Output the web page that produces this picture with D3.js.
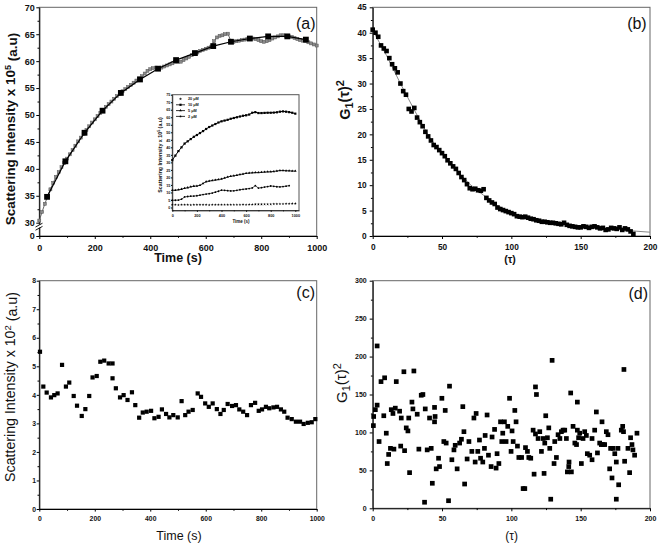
<!DOCTYPE html>
<html><head><meta charset="utf-8">
<script src="https://cdn.jsdelivr.net/npm/d3@7"></script>
<style>
body{margin:0;background:#fff}
svg{display:block}
</style></head><body>
<script>
// ---------------- DATA ----------------
// Panel (a): dense grey series
const aGreyT = [0,10,20,30,40,50,60,70,80,90,100,110,120,130,140,150,160,170,180,190,200,210,220,230,240,250,260,270,280,290,300,310,320,330,340,350,360,370,380,390,400,410,420,430,440,450,460,470,480,490,500,510,520,530,540,550,560,570,580,590,600,610,620,630,640,650,660,670,680,690,700,710,720,730,740,750,760,770,780,790,800,810,820,830,840,850,860,870,880,890,900,910,920,930,940,950,960,970,980,990,1000];
const aGreyV = [30.4,32.0,33.5,34.9,36.2,37.4,38.5,39.4,40.3,41.1,41.9,42.7,43.5,44.3,45.1,45.8,46.5,47.2,47.9,48.6,49.2,49.8,50.4,50.9,51.5,52.0,52.5,53.0,53.5,53.9,54.4,54.8,55.2,55.6,56.0,56.4,56.8,57.2,57.7,58.2,58.5,58.7,58.8,58.7,58.8,59.0,59.2,59.4,59.6,59.8,59.8,59.9,60.2,60.5,60.8,61.1,61.3,61.6,61.9,62.1,62.3,62.5,62.7,63.7,64.4,64.7,64.8,65.0,65.1,63.8,63.6,63.7,63.8,63.9,64.0,64.1,64.2,64.2,64.1,63.9,63.7,63.6,63.7,63.9,64.2,64.4,64.6,64.8,64.8,64.7,64.6,64.5,64.3,64.1,63.9,63.8,63.7,63.5,63.3,63.1,62.9];
// Panel (a): black series (large squares)
const aBlkT = [28,94,163,228,294,363,428,493,561,627,691,759,825,894,961];
const aBlkV = [34.8,41.4,46.7,50.8,54.1,56.6,58.6,60.2,61.5,62.8,63.6,64.2,64.6,64.6,64.0];
const aYTicks = [0,30,35,40,45,50,55,60,65,70];
const aXTicks = [0,200,400,600,800,1000];

// Inset of (a)
const inLegend = ["20 \u03bcM","10 \u03bcM","5 \u03bcM","2 \u03bcM"];
const inT = [0,25,50,75,100,125,150,175,200,225,250,275,300,325,350,375,400,425,450,475,500,525,550,575,600,625,650,675,700,725,750,775,800,825,850,875,900,925,950,975,1000];
const in20 = [1.8,1.8,1.7,1.8,1.8,1.8,1.7,1.8,1.8,1.8,1.8,1.8,1.7,1.8,1.8,1.8,1.8,1.9,1.8,1.8,1.9,1.9,1.9,2.0,1.9,2.0,2.0,2.1,2.1,2.1,2.2,2.2,2.2,2.3,2.3,2.4,2.4,2.5,2.5,2.6,2.6];
const in10 = [31.5,34.5,37.5,40,42.5,44,45.5,47,48.2,49.5,50.8,52.2,53.5,54.5,55.5,56.5,57.3,57.8,58.3,59,59.5,60,60.5,61,61.3,61.8,63,63.4,62.8,62.8,62.9,63,63,63.1,63.3,63.7,63.9,63.7,63.4,63,62.4];
const in5 = [11.5,11.5,11.8,12.2,12.8,13.2,13.8,14.2,14.3,14.8,16,17.2,17.6,18,18.3,18.6,19,19.6,20.3,20.8,21.1,21.5,21.9,22.3,22.7,22.9,23.1,23.2,23.3,23.4,23.6,23.7,23.8,24,24.3,24.6,24.6,24.5,24.4,24.3,24.2];
const in2 = [4.8,4.8,4.9,5.5,7.0,7.3,7.5,7.6,7.8,8.2,8.6,8.9,9.2,9.6,10.2,10.8,11.5,11.4,11.2,11.0,11.1,11.4,11.8,12.1,12.3,12.6,13.0,14.5,12.9,13.2,13.6,13.9,14.3,14.1,13.8,13.7,13.9,14.2,14.5];
const inYTicks = [0,5,10,15,20,25,30,35,40,45,50,55,60,65,70,75];
const inXTicks = [0,200,400,600,800,1000];

// Panel (b)
const bTau = [0,2,4,6,8,10,12,14,16,18,20,22,24,26,28,30,32,34,36,38,40,42,44,46,48,50,52,54,56,58,60,62,64,66,68,70,72,74,76,78,80,82,84,86,88,90,92,94,96,98,100,102,104,106,108,110,112,114,116,118,120,122,124,126,128,130,132,134,136,138,140,142,144,146,148,150,152,154,156,158,160,162,164,166,168,170,172,174,176,178,180,182,184,186,188];
const bG = [40.6,40.0,39.2,37.5,36.9,36.4,35.0,33.8,33.0,32.2,30.0,28.5,27.8,25.0,24.5,25.2,23.3,22.4,21.6,20.5,19.6,18.8,17.9,17.5,16.9,16.3,15.7,14.9,14.3,13.7,13.2,12.4,11.6,11.0,10.2,9.4,9.2,9.3,9.0,8.9,9.2,7.5,7.0,6.6,6.3,5.6,5.3,5.1,4.9,4.7,4.5,4.3,3.9,3.8,3.7,3.8,3.6,3.4,3.3,3.1,3.0,2.8,2.8,2.7,2.6,2.6,2.5,2.4,2.3,2.6,2.2,2.0,1.9,1.8,1.7,1.7,1.9,1.8,1.6,1.8,1.9,1.7,1.5,1.6,1.2,1.3,1.6,1.5,1.4,1.7,1.2,1.5,1.3,0.9,0.4];
const bFitT = [0,10,20,30,40,50,60,70,80,90,100,110,120,130,140,150,160,170,180,190,200];
const bFitG = [40.5,35.5,30,24.8,19.8,16.2,13.0,10.2,8.0,6.0,4.6,3.6,2.9,2.5,2.2,1.9,1.6,1.4,1.2,0.95,0.75];
const bYTicks = [0,5,10,15,20,25,30,35,40,45];
const bXTicks = [0,50,100,150,200];

// Panel (c)
const cT = [2.5,14.5,26.6,42,54,66,82,96,108,124,136,153,166,180,192,207,220,234,250,264,264,276,291,304,318,334,346,360,373,387,403,415,430,442,457,469,483,499,513,526,538,553,571,583,598,611,625,640,653,665,679,695,709,721,735,749,763,778,791,803,817,829,844,857,871,883,895,910,925,940,953,968,982,995];
const cV = [5.51,4.29,4.08,3.91,3.99,4.05,5.05,4.29,4.43,3.96,3.62,3.26,3.5,3.96,4.61,4.66,5.16,5.2,5.1,5.1,4.58,4.23,3.91,3.99,3.82,4.09,3.64,3.2,3.38,3.41,3.44,3.18,3.23,3.49,3.33,3.21,3.29,3.21,3.78,3.29,3.41,3.47,4.05,3.93,3.7,3.58,3.7,3.5,3.33,3.47,3.68,3.61,3.64,3.49,3.41,3.29,3.64,3.72,3.44,3.49,3.58,3.53,3.56,3.58,3.49,3.41,3.2,3.15,3.06,3.06,2.98,3.02,3.04,3.15];
const cYTicks = [0,1,2,3,4,5,6,7,8];
const cXTicks = [0,200,400,600,800,1000];

// Panel (d)
const dTau = [0.5,0.7,1.9,3.2,3.2,4.6,6.0,8.0,8.6,9.8,10.5,11.5,12.8,13.4,14.6,15.3,16.3,17.0,19.4,20.2,20.6,22.5,23.0,24.2,25.4,26.0,26.6,28.3,29.0,29.7,32.1,33.3,35.0,36.2,37.4,37.9,39.3,41.0,42.2,43.0,44.6,45.0,44.6,45.8,47.5,48.2,49.9,51.3,52.3,53.0,54.7,55.4,57.1,58.6,59.5,60.9,62.7,64.0,65.0,65.8,66.3,68.1,69.4,71.5,73.0,73.9,74.6,75.8,77.0,77.8,79.4,80.6,81.1,82.5,83.5,85.4,86.1,87.9,89.0,89.7,91.0,92.2,93.1,93.8,95.0,96.2,97.4,98.7,99.8,100.5,101.3,102.5,103.4,104.4,105.4,107.4,108.5,109.7,110.2,111.6,112.6,114,115.7,116.4,117.4,118.1,117.4,119.3,120.5,121.7,123,123.6,124.1,124.8,126,127,127.7,128.4,129.4,130.8,131.3,132.5,133.7,135,136.1,137.3,138.5,139.7,140.4,141.4,141.6,142.8,143.3,144.5,145.8,147,147.6,147.6,148.5,149.3,150.5,151.7,152.9,154.1,154.8,156.5,158.2,158.2,160.1,161.3,162.1,163.7,164.9,165.4,166.1,167.3,168.5,169.7,170.9,171.6,172.6,173.4,174.6,175.7,175.7,176.9,177.4,179.3,180.3,180.9,181.2,181.7,184.1,185.3,186,187,187.7,188.9,190.6];
const dG = [109,121,130,136,214,88,167,122,172,99,59,71,79,130,125,78,132,167,128,82,119,180,76,106,102,119,47,140,131,181,124,78,149,150,8,131,77,119,79,33,114,121,133,52,66,55,145,88,129,86,10,161,64,77,83,52,86,91,134,101,32,65,88,75,119,61,125,75,90,66,61,79,96,123,70,55,94,104,53,72,59,114,88,99,114,88,108,145,75,102,88,129,114,82,67,67,26,26,80,75,67,66,103,45,160,150,98,92,101,75,92,46,86,122,93,106,79,12,195,59,88,67,97,92,101,103,103,92,48,55,61,152,48,108,86,84,140,103,93,99,59,92,101,96,72,70,64,92,103,127,73,86,84,114,84,84,101,97,52,79,40,79,72,12,61,79,31,103,108,101,183,62,79,47,93,84,77,70,99];
const dYTicks = [0,50,100,150,200,250,300];
const dXTicks = [0,50,100,150,200];

// ---------------- DRAW ----------------
const FONT = "'Liberation Sans', Arial, Helvetica, sans-serif";
const svg = d3.select("body").append("svg").attr("width",660).attr("height",544)
  .style("font-family", FONT);

function frame(x, y, col) {
  const xr = x.range(), yr = y.range();
  const x0 = d3.min(xr), x1 = d3.max(xr), y0 = d3.max(yr), y1 = d3.min(yr);
  svg.append("rect").attr("x",x0).attr("y",y1).attr("width",x1-x0).attr("height",y0-y1)
    .attr("fill","#fff").attr("stroke",col||"#666").attr("stroke-width",1);
}

function axes(x, y, o) {
  const y0 = d3.max(y.range()), x0 = d3.min(x.range());
  const ts = o.ts || 3, tm = o.tm || 1.8;
  const gx = svg.append("g").attr("transform",`translate(0,${y0})`)
    .call(d3.axisBottom(x).tickValues(o.xMajor).tickSize(ts).tickSizeOuter(0).tickPadding(o.xPad).tickFormat(d3.format("d")));
  const gy = svg.append("g").attr("transform",`translate(${x0},0)`)
    .call(d3.axisLeft(y).tickValues(o.yMajor).tickSize(ts).tickSizeOuter(0).tickPadding(o.yPad).tickFormat(d3.format("d")));
  if (o.xMinor) svg.append("g").attr("transform",`translate(0,${y0})`)
    .call(d3.axisBottom(x).tickValues(o.xMinor).tickSize(tm).tickSizeOuter(0).tickFormat(""))
    .call(g=>g.select(".domain").remove());
  if (o.yMinor) svg.append("g").attr("transform",`translate(${x0},0)`)
    .call(d3.axisLeft(y).tickValues(o.yMinor).tickSize(tm).tickSizeOuter(0).tickFormat(""))
    .call(g=>g.select(".domain").remove());
  [gx, gy].forEach(g => {
    g.selectAll("text").attr("font-size", o.fs).attr("font-weight","bold").attr("fill","#111").attr("font-family",FONT);
    g.select(".domain").attr("stroke","#000").attr("stroke-width", o.sw || 1);
  });
  svg.selectAll(".tick line").attr("stroke","#000").attr("stroke-width", o.sw || 1);
}

function squares(T, V, x, y, s, fill, stroke) {
  svg.append("g").selectAll("rect").data(d3.zip(T, V)).join("rect")
    .attr("x", d => x(d[0]) - s/2).attr("y", d => y(d[1]) - s/2)
    .attr("width", s).attr("height", s).attr("fill", fill)
    .attr("stroke", stroke || "none").attr("stroke-width", 0.5);
}
function line(T, V, x, y, col, w) {
  svg.append("path").datum(d3.zip(T, V))
    .attr("d", d3.line().x(d => x(d[0])).y(d => y(d[1])))
    .attr("fill","none").attr("stroke",col).attr("stroke-width",w);
}
function vtitle(cx, cy, parts, fs, weight) {
  const t = svg.append("text").attr("transform",`translate(${cx},${cy}) rotate(-90)`)
    .attr("text-anchor","middle").attr("font-size",fs).attr("font-weight",weight).attr("fill","#111");
  parts.forEach(p => t.append("tspan").text(p[0]).attr("dy",p[1]||0).attr("font-size",p[2]||null));
  return t;
}
function label(xp, yp, s, fs, weight, anchor) {
  return svg.append("text").attr("x",xp).attr("y",yp).text(s).attr("font-size",fs)
    .attr("font-weight",weight).attr("text-anchor",anchor||"middle").attr("fill","#111");
}

// ===== Panel (a) =====
const xa = d3.scaleLinear([0,1000],[39.3,316.7]);
const ya = d3.scaleLinear([0,30,70],[236,222.7,7.3]);
frame(xa, ya);
axes(xa, ya, {xMajor:aXTicks, xMinor:[100,300,500,700,900], yMajor:aYTicks,
  yMinor:[32.5,37.5,42.5,47.5,52.5,57.5,62.5,67.5], fs:9, xPad:5.5, yPad:1.5});
// axis break
svg.append("rect").attr("x",35).attr("y",224.6).attr("width",8).attr("height",3).attr("fill","#fff");
svg.append("line").attr("x1",35.5).attr("y1",227).attr("x2",42.5).attr("y2",223.2).attr("stroke","#000").attr("stroke-width",0.9);
svg.append("line").attr("x1",35.5).attr("y1",230.2).attr("x2",42.5).attr("y2",226.4).attr("stroke","#000").attr("stroke-width",0.9);

line(aGreyT, aGreyV, xa, ya, "#555", 0.9);
squares(aGreyT, aGreyV, xa, ya, 3, "#8a8a8a", "#555");
line(aBlkT, aBlkV, xa, ya, "#000", 1.2);
squares(aBlkT, aBlkV, xa, ya, 5.8, "#000");

vtitle(15, 129, [["Scattering Intensity x 10"],["5","-0.45em","9px"],[" (a.u)","0.45em"]], 13.5, "bold");
label(178, 262, "Time (s)", 12.5, "bold");
label(315.5, 28.5, "(a)", 16, "normal", "end");

// ----- Inset -----
const xi = d3.scaleLinear([0,1030],[172.3,299]);
const yi = d3.scaleLinear([-2,75],[210.5,94.7]);
frame(xi, yi, "#555");
axes(xi, yi, {xMajor:inXTicks, xMinor:[100,300,500,700,900], yMajor:inYTicks, fs:3.8, xPad:2.2, yPad:0.6, ts:1.3, tm:0.8, sw:0.6});
line(inT, in10, xi, yi, "#000", 1);
squares(inT, in10, xi, yi, 2.2, "#000");
line(inT, in5, xi, yi, "#000", 0.8);
svg.append("g").selectAll("path").data(d3.zip(inT, in5)).join("path")
  .attr("transform", d => `translate(${xi(d[0])},${yi(d[1])})`)
  .attr("d", d3.symbol(d3.symbolTriangle, 3)).attr("fill","#000");
line(inT.slice(0, in2.length), in2, xi, yi, "#000", 0.7);
svg.append("g").selectAll("circle").data(d3.zip(inT, in2)).join("circle")
  .attr("cx", d => xi(d[0])).attr("cy", d => yi(d[1])).attr("r", 0.9).attr("fill","#000");
svg.append("g").selectAll("path").data(d3.zip(inT, in20)).join("path")
  .attr("transform", d => `translate(${xi(d[0])},${yi(d[1])})`)
  .attr("d", d3.symbol(d3.symbolStar, 2.5)).attr("fill","#000");
// inset legend
const legY = [99, 104.8, 110.6, 116.4];
inLegend.forEach((s, i) => {
  const yy = legY[i];
  if (i > 0) svg.append("line").attr("x1",176).attr("x2",185).attr("y1",yy).attr("y2",yy).attr("stroke","#000").attr("stroke-width",0.8);
  if (i === 0) svg.append("path").attr("transform",`translate(180.5,${yy})`).attr("d", d3.symbol(d3.symbolStar, 3)).attr("fill","#000");
  if (i === 1) svg.append("rect").attr("x",179.4).attr("y",yy-1.1).attr("width",2.2).attr("height",2.2).attr("fill","#000");
  if (i === 2) svg.append("path").attr("transform",`translate(180.5,${yy})`).attr("d", d3.symbol(d3.symbolTriangle, 3)).attr("fill","#000");
  if (i === 3) svg.append("circle").attr("cx",180.5).attr("cy",yy).attr("r",0.9).attr("fill","#000");
  label(188, yy + 1.3, s, 3.8, "bold", "start");
});
vtitle(161.5, 155, [["Scattering Intensity x 10"],["5","-0.45em","3.6px"],[" (a.u)","0.45em"]], 5.3, "bold");
label(241, 222.5, "Time (s)", 4.5, "bold");

// ===== Panel (b) =====
const xb = d3.scaleLinear([0,200],[372.7,650]);
const yb = d3.scaleLinear([0,45],[236,7.3]);
frame(xb, yb);
axes(xb, yb, {xMajor:bXTicks, xMinor:[25,75,125,175], yMajor:bYTicks,
  yMinor:[2.5,7.5,12.5,17.5,22.5,27.5,32.5,37.5,42.5], fs:8.3, xPad:5.2, yPad:3});
line(bFitT, bFitG, xb, yb, "#888", 1);
squares(bTau, bG, xb, yb, 4.6, "#000");
vtitle(350, 100, [["G"],["1","0.3em","11px"],["(\u03c4)","-0.3em"],["2","-0.45em","11px"]], 14.5, "bold");
label(510, 263, "(\u03c4)", 10.5, "bold");
label(646.7, 28.5, "(b)", 16, "normal", "end");

// ===== Panel (c) =====
const xc = d3.scaleLinear([0,1000],[39.3,316.7]);
const yc = d3.scaleLinear([0,8],[509,280.7]);
frame(xc, yc);
axes(xc, yc, {xMajor:cXTicks, xMinor:[100,300,500,700,900], yMajor:cYTicks,
  yMinor:[0.5,1.5,2.5,3.5,4.5,5.5,6.5,7.5], fs:6.8, xPad:5, yPad:0.8, ts:2.6});
squares(cT, cV, xc, yc, 4.2, "#000");
vtitle(15, 387, [["Scattering Intensity x 10"],["2","-0.45em","9.5px"],[" (a.u)","0.45em"]], 14.2, "normal");
label(179, 539.5, "Time (s)", 12.5, "normal");
label(315, 298, "(c)", 16, "normal", "end");

// ===== Panel (d) =====
const xd = d3.scaleLinear([0,200],[372.7,650]);
const yd = d3.scaleLinear([0,300],[508.3,280.7]);
frame(xd, yd);
axes(xd, yd, {xMajor:dXTicks, xMinor:[25,75,125,175], yMajor:dYTicks,
  yMinor:[25,75,125,175,225,275], fs:7, xPad:4.5, yPad:3});
squares(dTau, dG, xd, yd, 4.7, "#000");
vtitle(347, 383, [["G"],["1","0.3em","11px"],["(\u03c4)","-0.3em"],["2","-0.45em","11px"]], 15, "normal");
label(511.7, 539.5, "(\u03c4)", 12, "normal");
label(648, 299, "(d)", 16, "normal", "end");
</script>
</body></html>
